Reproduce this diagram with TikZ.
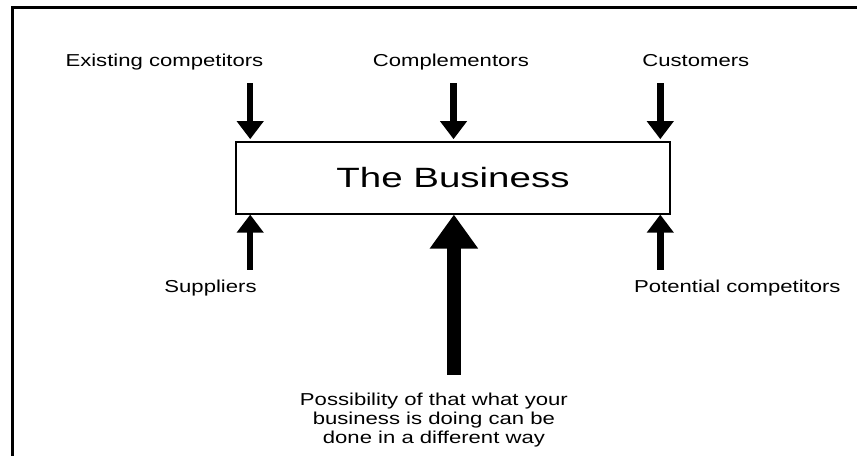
\documentclass[tikz,border=0pt]{standalone}
\usepackage{fontspec}
\setmainfont{Liberation Sans}
\usepackage{tikz,graphics,graphicx}
\usetikzlibrary{arrows.meta}

\tikzset{
  forcetext/.style={font=\fontsize{13}{14.3}\selectfont, xscale=1.28, inner sep=0pt, anchor=base},
  forcearrow/.style={line width=0.172cm, -{Triangle[width=0.69cm,length=0.48cm]}},
  bigarrow/.style={line width=0.35cm, -{Triangle[width=1.22cm,length=0.9cm]}}
}

\begin{document}
\begin{tikzpicture}

\useasboundingbox (0cm,0cm) rectangle (22.675cm,-12.065cm);

\draw [line width=0.08cm] (0.33cm,-12.065cm) -- (0.33cm,-0.21cm) -- (22.675cm,-0.21cm);

\node (business) [draw, line width=0.035cm, minimum width=11.49cm, minimum height=1.9cm, inner sep=0pt, font=\fontsize{21}{25}\selectfont] at (11.985cm,-4.71cm) {\scalebox{1.38}[1]{The Business}};

\node (existing) [forcetext] at (4.35cm,-1.77cm) {Existing competitors};
\node (complementors) [forcetext] at (11.93cm,-1.77cm) {Complementors};
\node (customers) [forcetext] at (18.41cm,-1.77cm) {Customers};
\node (suppliers) [forcetext] at (5.57cm,-7.75cm) {Suppliers};
\node (potential) [forcetext] at (19.51cm,-7.75cm) {Potential competitors};
\node (different) [forcetext, anchor=north, align=center] at (11.48cm,-10.4cm) {Possibility of that what your\\business is doing can be\\done in a different way};

\coordinate (existingstart) at (6.62cm,-2.2cm);
\coordinate (complementorsstart) at (12cm,-2.2cm);
\coordinate (customersstart) at (17.47cm,-2.2cm);
\coordinate (suppliersstart) at (6.62cm,-7.14cm);
\coordinate (potentialstart) at (17.47cm,-7.14cm);
\coordinate (differentstart) at (12.01cm,-9.92cm);

\draw [forcearrow, shorten >=0.06cm] (existingstart) -- (existingstart |- business.north);
\draw [forcearrow, shorten >=0.06cm] (complementorsstart) -- (complementorsstart |- business.north);
\draw [forcearrow, shorten >=0.06cm] (customersstart) -- (customersstart |- business.north);
\draw [forcearrow] (suppliersstart) -- (suppliersstart |- business.south);
\draw [forcearrow] (potentialstart) -- (potentialstart |- business.south);
\draw [bigarrow] (differentstart) -- (differentstart |- business.south);

\end{tikzpicture}
\end{document}
